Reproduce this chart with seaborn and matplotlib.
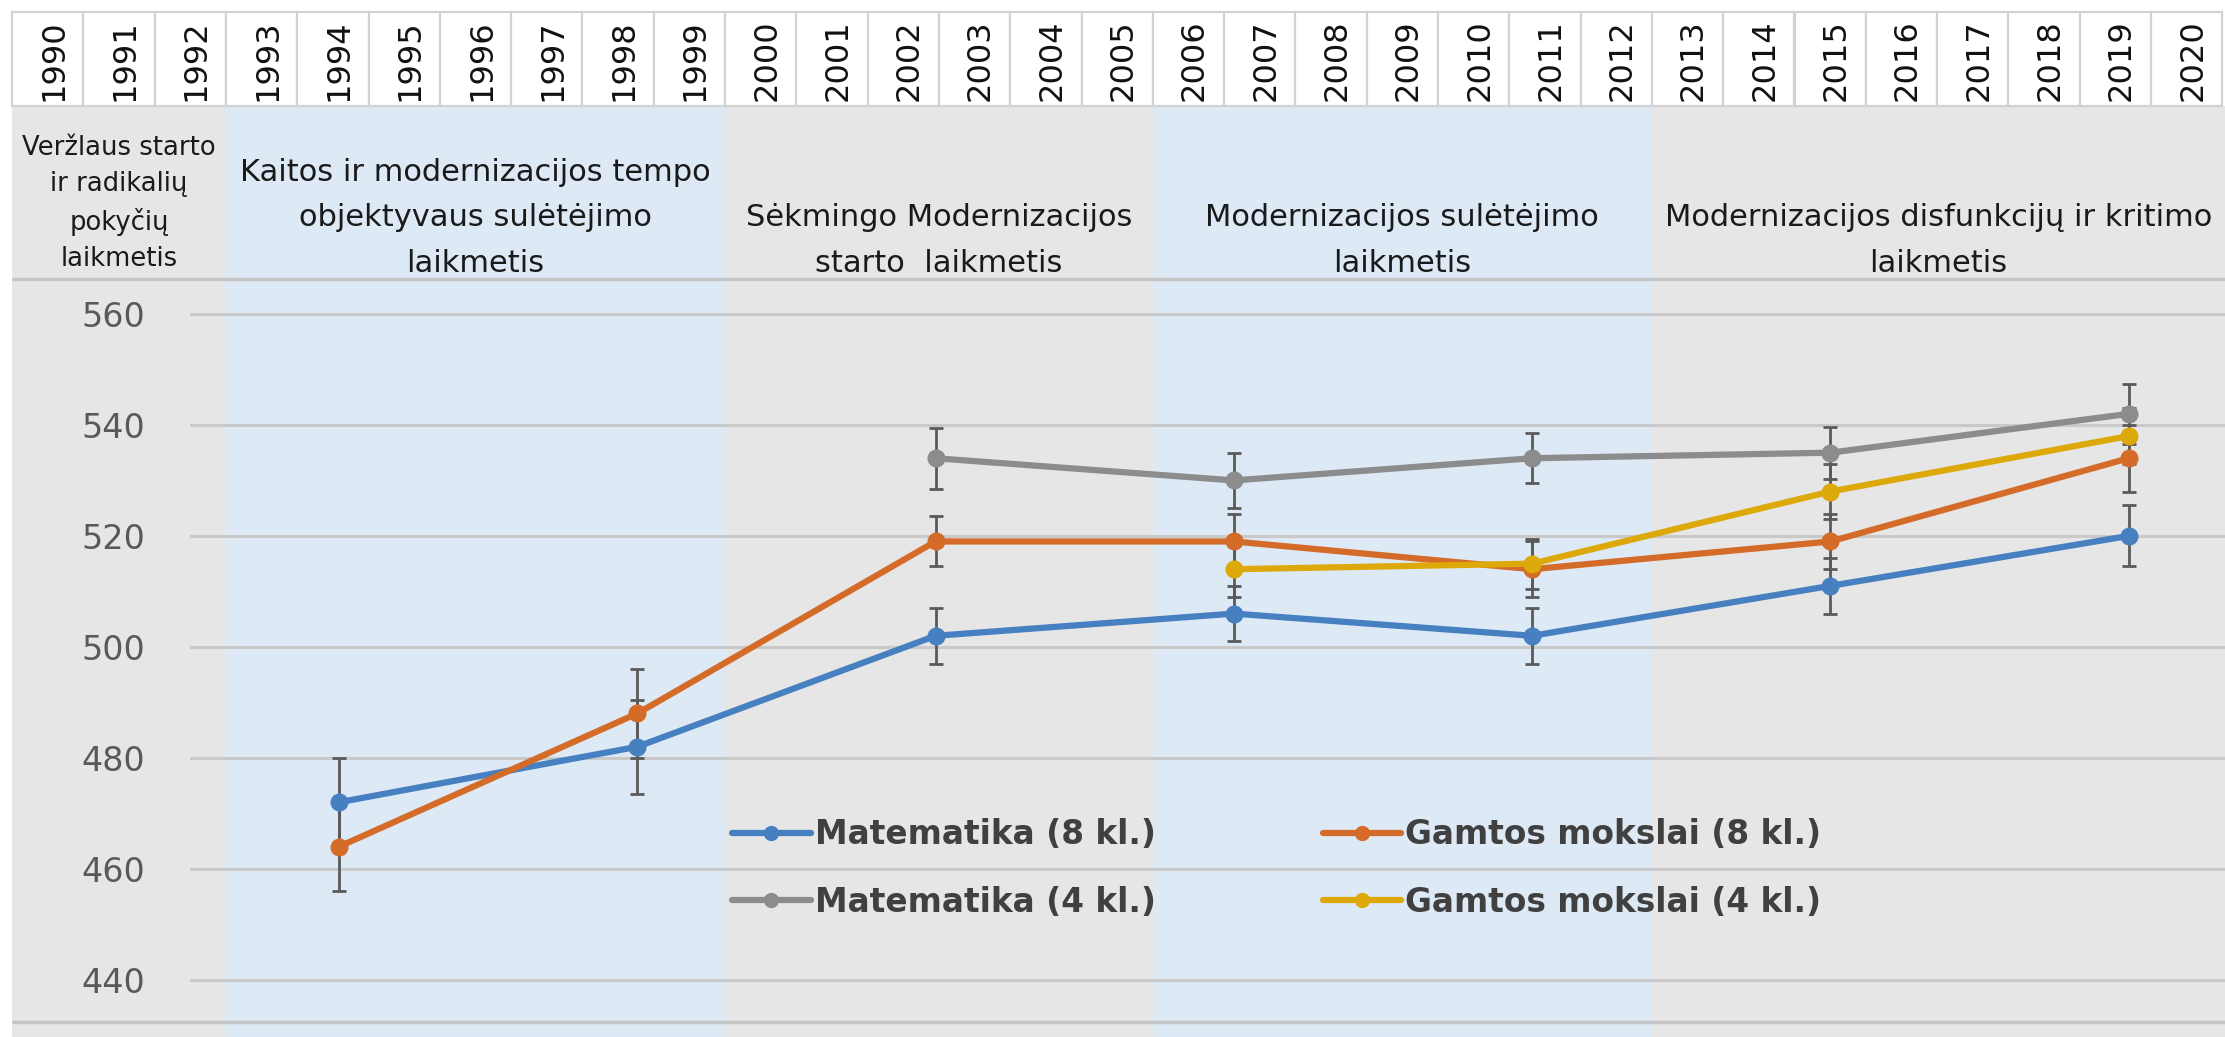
import numpy as np
import pandas as pd
import matplotlib
matplotlib.use("Agg")
import matplotlib.pyplot as plt
from matplotlib.patches import Rectangle
from matplotlib.lines import Line2D
import seaborn as sns

# ---------------- data ----------------
header_years = list(range(1990, 2021))
survey_years = ["1995", "1999", "2003", "2007", "2011", "2015", "2019"]

mat8 = [472, 482, 502, 506, 502, 511, 520]
mat8_err = [8, 8.5, 5, 5, 5, 5, 5.5]
gam8 = [464, 488, 519, 519, 514, 519, 534]
gam8_err = [8, 8, 4.5, 5, 5, 5, 6]
mat4 = [np.nan, np.nan, 534, 530, 534, 535, 542]
mat4_err = [np.nan, np.nan, 5.5, 5, 4.5, 4.7, 5.4]
gam4 = [np.nan, np.nan, np.nan, 514, 515, 528, 538]
gam4_err = [np.nan, np.nan, np.nan, 5, 4.5, 5, 5]

series_names = ["Matematika (8 kl.)", "Gamtos mokslai (8 kl.)",
                "Matematika (4 kl.)", "Gamtos mokslai (4 kl.)"]
series_values = [mat8, gam8, mat4, gam4]
series_errors = [mat8_err, gam8_err, mat4_err, gam4_err]
series_colors = ["#4780C0", "#D46B28", "#8C8C8C", "#DDA80A"]

period_labels = [
    "Veržlaus starto\nir radikalių\npokyčių\nlaikmetis",
    "Kaitos ir modernizacijos tempo\nobjektyvaus sulėtėjimo\nlaikmetis",
    "Sėkmingo Modernizacijos\nstarto  laikmetis",
    "Modernizacijos sulėtėjimo\nlaikmetis",
    "Modernizacijos disfunkcijų ir kritimo\nlaikmetis",
]
period_start = [1990, 1993, 2000, 2006, 2013]
period_end = [1992, 1999, 2005, 2012, 2020]
period_colors = ["#E6E6E6", "#DDE9F5", "#E6E6E6", "#DDE9F5", "#E6E6E6"]
y_ticks = [440, 460, 480, 500, 520, 540, 560]

# ---------------- layout (pixels) ----------------
W, H, DPI = 2225, 1037, 100
cell_left, cell_w = 12, 71.3
row_top, row_bot = 12, 106
head_bot, plot_bot = 279, 1022

sns.set_style("white")
plt.rcParams["font.family"] = ["DejaVu Sans"]

fig = plt.figure(figsize=(W / DPI, H / DPI), dpi=DPI)
fig.patch.set_facecolor("white")

# background / table axes in pixel coordinates
bg = fig.add_axes([0, 0, 1, 1], zorder=0)
bg.set_xlim(0, W)
bg.set_ylim(H, 0)
bg.axis("off")

for i, (lab, s, e, c) in enumerate(zip(period_labels, period_start, period_end, period_colors)):
    x0 = cell_left + (s - header_years[0]) * cell_w
    x1 = cell_left + (e - header_years[0] + 1) * cell_w
    if i == len(period_labels) - 1:
        x1 = W
    bg.add_patch(Rectangle((x0, row_bot), x1 - x0, H - row_bot, facecolor=c, edgecolor="none"))
    if i == 0:
        bg.text((x0 + x1) / 2, 272, lab, ha="center", va="bottom", multialignment="center",
                fontsize=18.6, linespacing=1.5, color="#1A1A1A")
    else:
        bg.text((x0 + x1) / 2, 278, lab, ha="center", va="bottom", multialignment="center",
                fontsize=22, linespacing=1.72, color="#1A1A1A")

for j, yr in enumerate(header_years):
    x0 = cell_left + j * cell_w
    bg.add_patch(Rectangle((x0, row_top), cell_w, row_bot - row_top, facecolor="white",
                           edgecolor="#D2D2D2", linewidth=1.6))
    bg.text(x0 + cell_w / 2 + 6, 101, str(yr), rotation=90, ha="center", va="bottom",
            fontsize=23, color="#111111")

bg.plot([cell_left, W], [head_bot, head_bot], color="#C4C4C4", lw=2.5, solid_capstyle="butt")
bg.plot([cell_left, W], [plot_bot, plot_bot], color="#C4C4C4", lw=2.5, solid_capstyle="butt")

# ---------------- data axes ----------------
x_first, x_step, ax_left = 339.0, 298.3, 189.8
ax = fig.add_axes([ax_left / W, (H - plot_bot) / H, (W - ax_left) / W, (plot_bot - head_bot) / H],
                  zorder=1)
ax.set_facecolor("none")
xmax = (W - ax_left) / x_step - 0.5
ax.set_xlim(-0.5, xmax)
ax.set_ylim(432.4, 566.3)

rows = []
for name, vals in zip(series_names, series_values):
    for k, v in enumerate(vals):
        if not np.isnan(v):
            rows.append({"pos": k, "year": survey_years[k], "value": v, "series": name})
df = pd.DataFrame(rows)

for name, vals, errs, col in zip(series_names, series_values, series_errors, series_colors):
    pos = [k for k, v in enumerate(vals) if not np.isnan(v)]
    ax.errorbar(pos, [vals[k] for k in pos], yerr=[errs[k] for k in pos], fmt="none",
                ecolor="#5A5A5A", elinewidth=2, capsize=5, capthick=2, zorder=2)

sns.lineplot(data=df, x="pos", y="value", hue="series", hue_order=series_names,
             palette=dict(zip(series_names, series_colors)), marker="o", markersize=13,
             markeredgewidth=0, linewidth=4.5, legend=False, ax=ax, zorder=3)

ax.set_yticks(y_ticks)
ax.set_yticklabels([str(t) for t in y_ticks])
ax.set_xticks([])
ax.tick_params(axis="y", length=0, pad=32, labelsize=24, labelcolor="#595959")
ax.yaxis.grid(True, color="#C9C9C9", linewidth=2.2)
ax.set_axisbelow(True)
ax.set_xlabel("")
ax.set_ylabel("")
for sp in ax.spines.values():
    sp.set_visible(False)

# legend: column-wise order
order = [0, 2, 1, 3]
handles = [Line2D([], [], color=series_colors[i], lw=4.5, marker="o", markersize=11,
                  markeredgewidth=0) for i in order]
labels = [series_names[i] for i in order]
leg = ax.legend(handles, labels, ncol=2, loc="upper left",
                bbox_to_anchor=(732 / W, (H - 818) / H), bbox_transform=fig.transFigure,
                frameon=False, borderpad=0, borderaxespad=0, handlelength=2.4,
                handletextpad=0.12, columnspacing=5.1, labelspacing=1.06,
                prop={"size": 23.6, "weight": "bold"})
for t in leg.get_texts():
    t.set_color("#404040")

fig.savefig("out.png", dpi=DPI)
